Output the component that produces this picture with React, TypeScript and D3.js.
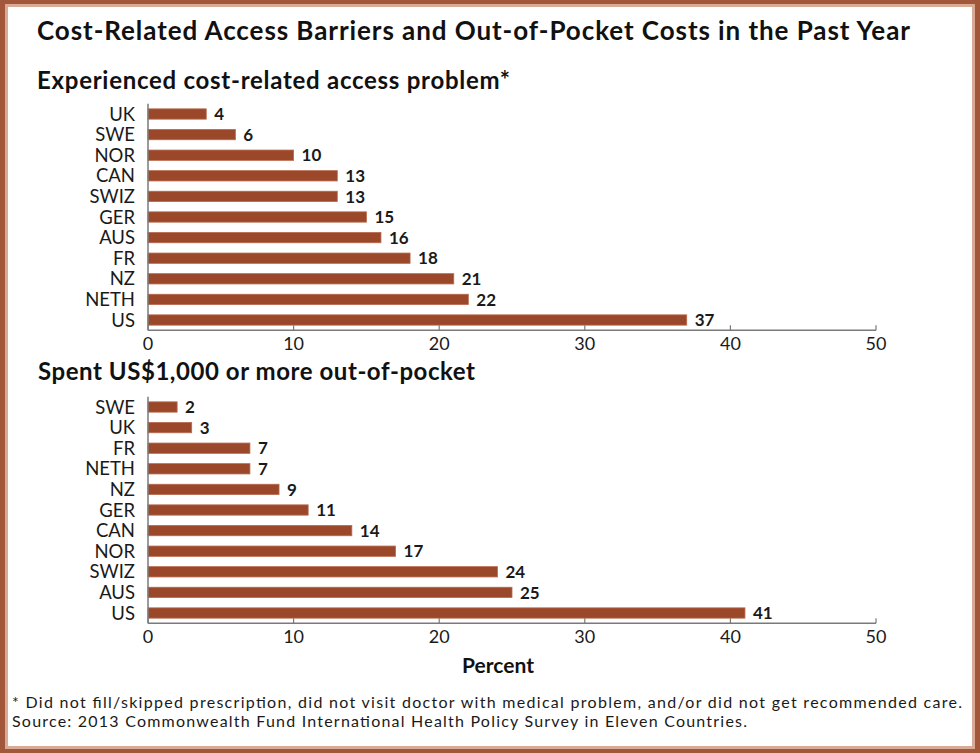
import React, { useEffect } from 'react';
import * as d3 from 'd3';

// panel 1: experienced cost-related access problem (%)
const accessCountries = ['UK', 'SWE', 'NOR', 'CAN', 'SWIZ', 'GER', 'AUS', 'FR', 'NZ', 'NETH', 'US'];
const accessValues = [4, 6, 10, 13, 13, 15, 16, 18, 21, 22, 37];

// panel 2: spent US$1,000 or more out-of-pocket (%)
const oopCountries = ['SWE', 'UK', 'FR', 'NETH', 'NZ', 'GER', 'CAN', 'NOR', 'SWIZ', 'AUS', 'US'];
const oopValues = [2, 3, 7, 7, 9, 11, 14, 17, 24, 25, 41];

const tickValues = [0, 10, 20, 30, 40, 50];

const W = 980;
const H = 753;
const FONT = 'Lato, "Open Sans", sans-serif';
const BAR = '#9b472a';
const BAR_EDGE = '#b8694c';
const AXIS = '#7a7a7a';

const x = d3.scaleLinear().domain([0, 50]).range([148, 876]);

interface PanelProps {
  countries: string[];
  values: number[];
  top: number;
  bottom: number;
}

const Panel: React.FC<PanelProps> = ({ countries, values, top, bottom }) => {
  const y = d3.scaleBand<string>().domain(countries).range([top, bottom]).paddingInner(0.5).paddingOuter(0.25);
  const rows = countries.map((c, i) => ({ c, v: values[i] }));
  return (
    <g>
      {rows.map(d => (
        <g key={d.c}>
          <rect
            x={x(0)}
            y={y(d.c)}
            width={x(d.v) - x(0)}
            height={y.bandwidth()}
            fill={BAR}
            stroke={BAR_EDGE}
            strokeWidth={0.8}
          />
          <text
            x={x(0) - 13}
            y={(y(d.c) ?? 0) + y.bandwidth() / 2}
            dy="0.36em"
            textAnchor="end"
            fontSize={18.5}
            fill="#1a1a1a"
          >
            {d.c}
          </text>
          <text
            x={x(d.v) + 8}
            y={(y(d.c) ?? 0) + y.bandwidth() / 2}
            dy="0.36em"
            fontSize={17}
            fontWeight={700}
            fill="#1a1a1a"
          >
            {d.v}
          </text>
        </g>
      ))}
      <line x1={x(0)} x2={x(0)} y1={top} y2={bottom} stroke={AXIS} strokeWidth={1.5} />
      <line x1={x(0)} x2={x(50)} y1={bottom} y2={bottom} stroke={AXIS} strokeWidth={1.5} />
      {tickValues.map(t => (
        <g key={t}>
          <line x1={x(t)} x2={x(t)} y1={bottom - 5} y2={bottom} stroke={AXIS} strokeWidth={1.2} />
          <text x={x(t)} y={bottom + 20} textAnchor="middle" fontSize={18} fill="#1a1a1a">
            {t}
          </text>
        </g>
      ))}
    </g>
  );
};

const App: React.FC = () => {
  useEffect(() => {
    document.body.style.margin = '0';
  }, []);

  return (
    <svg width={W} height={H} style={{ display: 'block', fontFamily: FONT }}>
      {/* frame */}
      <rect x={0} y={0} width={W} height={H} fill="#a3573a" />
      <rect x={5} y={4} width={W - 10} height={H - 8} fill="#d9ab97" />
      <rect x={8} y={7} width={W - 16} height={H - 14} fill="#ffffff" />

      <text x={37} y={40} fontSize={26} fontWeight={700} fill="#111" textLength={873}>
        Cost-Related Access Barriers and Out-of-Pocket Costs in the Past Year
      </text>

      <text x={37} y={89} fontSize={24} fontWeight={700} fill="#111" textLength={473}>
        Experienced cost-related access problem*
      </text>
      <Panel countries={accessCountries} values={accessValues} top={103.7} bottom={330.3} />

      <text x={38} y={380} fontSize={24} fontWeight={700} fill="#111" textLength={437}>
        Spent US$1,000 or more out-of-pocket
      </text>
      <Panel countries={oopCountries} values={oopValues} top={396.7} bottom={623.3} />

      <text x={498} y={673} textAnchor="middle" fontSize={21} fontWeight={700} fill="#111">
        Percent
      </text>

      <text x={12} y={708} fontSize={16} fill="#1a1a1a" textLength={950}>
        * Did not fill/skipped prescription, did not visit doctor with medical problem, and/or did not get recommended care.
      </text>
      <text x={12} y={727} fontSize={16} fill="#1a1a1a" textLength={735}>
        Source: 2013 Commonwealth Fund International Health Policy Survey in Eleven Countries.
      </text>
    </svg>
  );
};

export default App;
